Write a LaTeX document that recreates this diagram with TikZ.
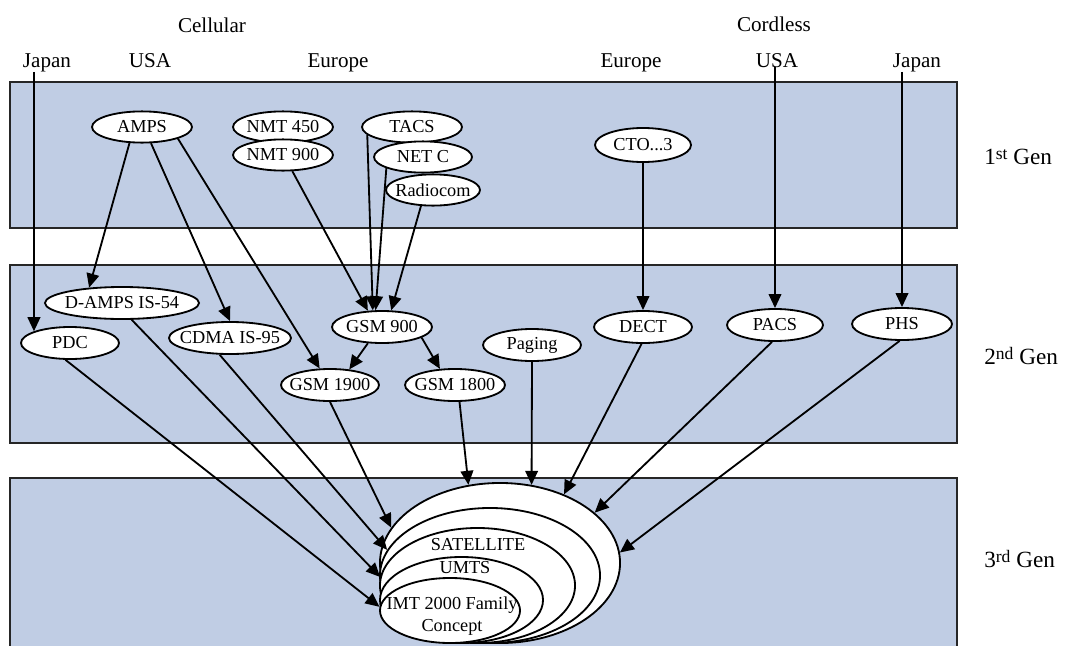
\documentclass[tikz,border=0pt]{standalone}
\usepackage{fontspec}
\setmainfont{Liberation Serif}
\usetikzlibrary{shapes.geometric,arrows.meta}
\definecolor{genblue}{RGB}{192,205,228}
\newcommand{\gensup}[1]{\raisebox{0.45ex}{\fontsize{12.5}{14}\selectfont #1}}
\tikzset{
  band/.style={fill=genblue, draw=black!85, line width=1.2pt},
  sys/.style={ellipse, draw, fill=white, line width=1.3pt, inner xsep=-6pt, inner ysep=-3pt,
    minimum width=2.5cm, minimum height=0.8cm, font=\fontsize{13}{15}\selectfont},
  ring/.style={ellipse, draw, fill=white, line width=1.3pt, inner sep=0pt},
  region/.style={font=\fontsize{15}{18}\selectfont, inner sep=0pt, anchor=base},
  gen/.style={font=\fontsize{16.5}{19}\selectfont, inner sep=0pt, anchor=base west},
  arr/.style={line width=1.3pt, -{Triangle[length=10pt,width=9pt]}},
}

\begin{document}
\begin{tikzpicture}[x=0.025cm, y=-0.025cm]
			%%%%% START %%%%%
			\useasboundingbox (0,0) rectangle (1072,645);
			
			\draw[band] (10, 82) rectangle (957, 228);
			\draw[band] (10, 265) rectangle (957, 443);
			\draw[band] (10, 478) rectangle (957, 680);
			
			\node[region] (cellular) at (212, 32) {Cellular};
			\node[region] (japanA) at (47, 67) {Japan};
			\node[region] (usaA) at (150, 67) {USA};
			\node[region] (europeA) at (338, 67) {Europe};
			\node[region] (cordless) at (774, 31) {Cordless};
			\node[region] (europeB) at (631, 67) {Europe};
			\node[region] (usaB) at (777, 67) {USA};
			\node[region] (japanB) at (917, 67) {Japan};
			
			\node[gen] (gen1) at (984, 164) {1\gensup{st}\ Gen};
			\node[gen] (gen2) at (984, 364) {2\gensup{nd}\ Gen};
			\node[gen] (gen3) at (984, 567) {3\gensup{rd}\ Gen};
			
			% 1st Gen
			\node[sys, minimum height=0.78cm] (amps) at (142, 127) {AMPS};
			\node[sys, minimum height=0.78cm] (nmtA) at (283, 127) {NMT 450};
			\node[sys, minimum height=0.78cm] (nmtB) at (283, 155) {NMT 900};
			\node[sys, minimum height=0.78cm] (tacs) at (412, 127) {TACS};
			\node[sys, minimum height=0.78cm, minimum width=2.45cm] (netc) at (423, 157) {NET C};
			\node[sys, minimum height=0.78cm, minimum width=2.35cm] (radiocom) at (433, 190) {Radiocom};
			\node[sys, minimum height=0.85cm, minimum width=2.4cm] (cto) at (643, 145) {CTO...3};
			
			% 2nd Gen
			\node[sys, minimum width=3.85cm] (damps) at (122, 303) {D-AMPS IS-54};
			\node[sys, minimum width=2.45cm] (pdc) at (70, 343) {PDC};
			\node[sys, minimum width=3.05cm] (cdma) at (230, 338) {CDMA IS-95};
			\node[sys] (gsmA) at (382, 327) {GSM 900};
			\node[sys, minimum width=2.45cm] (gsmB) at (330, 385) {GSM 1900};
			\node[sys] (gsmC) at (455, 385) {GSM 1800};
			\node[sys, minimum width=2.45cm] (paging) at (532, 345) {Paging};
			\node[sys, minimum width=2.45cm] (dect) at (643, 327) {DECT};
			\node[sys, minimum width=2.4cm] (pacs) at (775, 325) {PACS};
			\node[sys] (phs) at (902, 324) {PHS};
			
			% 3rd Gen
			\node[ring, minimum width=6cm, minimum height=4cm] (ringA) at (500, 563) {};
			\node[ring, minimum width=5.5cm, minimum height=3.375cm] (ringB) at (490, 575.5) {};
			\node[ring, minimum width=4.875cm, minimum height=2.875cm] (ringC) at (477.5, 585.5) {};
			\node[ring, minimum width=4.075cm, minimum height=2.15cm] (ringD) at (461.5, 600) {};
			\node[ring, minimum width=3.5cm, minimum height=1.625cm] (ringE) at (450, 610.5) {};
			\node[font=\fontsize{13}{15}\selectfont, inner sep=0pt] (satellite) at (478, 545) {SATELLITE};
			\node[font=\fontsize{13}{15}\selectfont, inner sep=0pt] (umts) at (465, 568) {UMTS};
			\node[font=\fontsize{13}{15.6}\selectfont, inner sep=0pt, align=center] (imt) at (452, 616) {IMT 2000 Family\\Concept};
			
			% arrows
			\draw[arr] (japanA.south -| pdc.162) -- (pdc.162);
			\draw[arr] (amps.232) -- (damps.155);
			\draw[arr] (amps.299) -- (cdma.north);
			\draw[arr] (amps.342) -- (gsmB.122);
			\draw[arr] (nmtB.300) -- (gsmA.131);
			\draw[arr] (tacs.190) -- (gsmA.119);
			\draw[arr] (netc.197) -- (gsmA.111);
			\draw[arr] (radiocom.233) -- (gsmA.61);
			\draw[arr] (cto.south) -- (dect.north);
			\draw[arr] (usaB.south -| pacs.north) -- (pacs.north);
			\draw[arr] (japanB.south -| phs.north) -- (phs.north);
			\draw[arr] (gsmA.229) -- (gsmB.39);
			\draw[arr] (gsmA.345) -- (gsmC.133);
			
			\draw[arr] (pdc.255) -- (ringE.177);
			\draw[arr] (damps.300) -- (ringC.175);
			\draw[arr] (cdma.238) -- (ringB.166);
			\draw[arr] (gsmB.south) -- (ringA.162);
			\draw[arr] (gsmC.285) -- (ringA.112);
			\draw[arr] (paging.south) -- (ringA.68);
			\draw[arr] (dect.265) -- (ringA.47);
			\draw[arr] (pacs.260) -- (ringA.28);
			\draw[arr] (phs.262) -- (ringA.5);
			%%%%% END %%%%%
\end{tikzpicture}
\end{document}
